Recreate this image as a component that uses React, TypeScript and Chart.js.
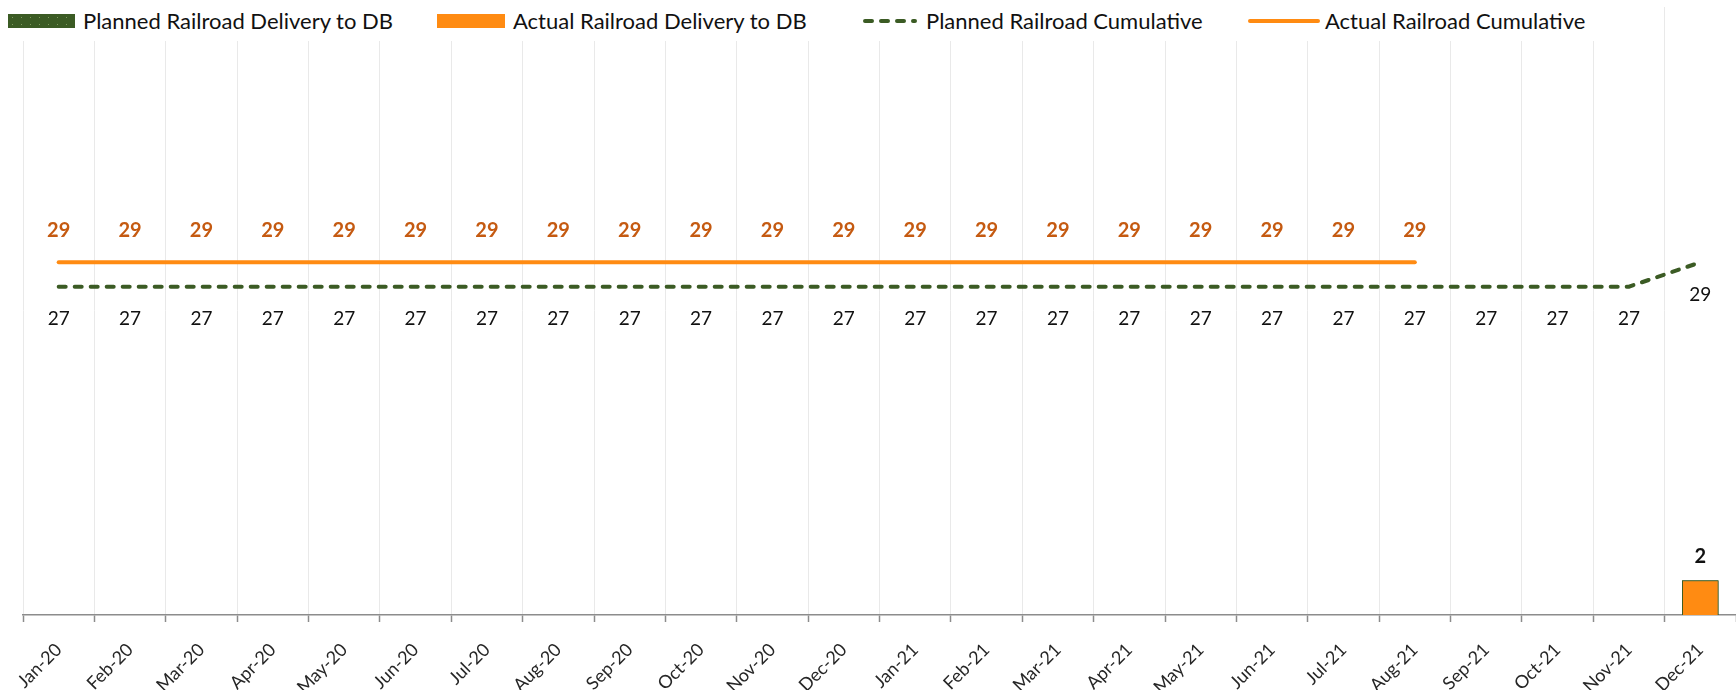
import React, { useEffect, useRef } from "react";
import { Chart, registerables } from "chart.js";

Chart.register(...registerables);

const months = [
  "Jan-20", "Feb-20", "Mar-20", "Apr-20", "May-20", "Jun-20",
  "Jul-20", "Aug-20", "Sep-20", "Oct-20", "Nov-20", "Dec-20",
  "Jan-21", "Feb-21", "Mar-21", "Apr-21", "May-21", "Jun-21",
  "Jul-21", "Aug-21", "Sep-21", "Oct-21", "Nov-21", "Dec-21",
];

const plannedDelivery = [
  null, null, null, null, null, null, null, null, null, null, null, null,
  null, null, null, null, null, null, null, null, null, null, null, 2,
];

const actualDelivery = [
  null, null, null, null, null, null, null, null, null, null, null, null,
  null, null, null, null, null, null, null, null, null, null, null, 2,
];

const plannedCumulative = [
  27, 27, 27, 27, 27, 27, 27, 27, 27, 27, 27, 27,
  27, 27, 27, 27, 27, 27, 27, 27, 27, 27, 27, 29,
];

const actualCumulative = [
  29, 29, 29, 29, 29, 29, 29, 29, 29, 29, 29, 29,
  29, 29, 29, 29, 29, 29, 29, 29, null, null, null, null,
];

const seriesNames = [
  "Planned Railroad Delivery to DB",
  "Actual Railroad Delivery to DB",
  "Planned Railroad Cumulative",
  "Actual Railroad Cumulative",
];

const FONT = "Lato";
const GREEN = "#3B5B24";
const ORANGE = "#FF8B12";
const LABEL_ORANGE = "#C55A11";

const valueLabelPlugin = {
  id: "valueLabels",
  afterDatasetsDraw(chart: any) {
    const ctx = chart.ctx;
    chart.data.datasets.forEach((ds: any, i: number) => {
      const cfg = ds.valueLabel;
      if (!cfg) return;
      const meta = chart.getDatasetMeta(i);
      if (meta.hidden) return;
      meta.data.forEach((el: any, j: number) => {
        const v = ds.data[j];
        if (v == null) return;
        const p = el.getProps(["x", "y"], true);
        ctx.save();
        ctx.font = `${cfg.weight} ${cfg.size}px ${FONT}`;
        ctx.fillStyle = cfg.color;
        ctx.textAlign = "center";
        ctx.textBaseline = "middle";
        ctx.fillText(String(v), p.x, p.y + cfg.dy);
        ctx.restore();
      });
    });
  },
};

function LegendSwatch({ kind }: { kind: number }) {
  if (kind === 0) {
    return (
      <svg width="67" height="14" style={{ display: "block" }}>
        <defs>
          <pattern id="dots" width="9" height="7" patternUnits="userSpaceOnUse">
            <rect width="9" height="7" fill={GREEN} />
            <rect x="4" y="3" width="1" height="1" fill="#7d9a5c" />
          </pattern>
        </defs>
        <rect width="67" height="14" fill="url(#dots)" />
      </svg>
    );
  }
  if (kind === 1) {
    return (
      <svg width="68" height="14" style={{ display: "block" }}>
        <rect width="68" height="14" fill={ORANGE} />
      </svg>
    );
  }
  if (kind === 2) {
    return (
      <svg width="54" height="14" style={{ display: "block" }}>
        <line x1="2" y1="7" x2="52" y2="7" stroke={GREEN} strokeWidth="4"
          strokeDasharray="7 9" strokeLinecap="round" />
      </svg>
    );
  }
  return (
    <svg width="72" height="14" style={{ display: "block" }}>
      <line x1="2" y1="7" x2="70" y2="7" stroke={ORANGE} strokeWidth="4" strokeLinecap="round" />
    </svg>
  );
}

const legendSwatchLeft = [8, 437, 863, 1248];
const legendTextLeft = [83, 513, 926, 1325];

export default function App() {
  const canvasRef = useRef<HTMLCanvasElement | null>(null);

  useEffect(() => {
    if (!canvasRef.current) return;
    const chart = new Chart(canvasRef.current, {
      type: "bar",
      data: {
        labels: months,
        datasets: [
          {
            type: "line",
            label: seriesNames[3],
            data: actualCumulative,
            yAxisID: "y1",
            borderColor: ORANGE,
            backgroundColor: ORANGE,
            borderWidth: 4,
            borderCapStyle: "round",
            pointRadius: 0,
            pointHoverRadius: 0,
            order: 1,
            valueLabel: { color: LABEL_ORANGE, size: 20, weight: "bold", dy: -32 },
          } as any,
          {
            type: "line",
            label: seriesNames[2],
            data: plannedCumulative,
            yAxisID: "y1",
            borderColor: GREEN,
            backgroundColor: GREEN,
            borderWidth: 4,
            borderDash: [7, 9],
            borderCapStyle: "round",
            pointRadius: 0,
            pointHoverRadius: 0,
            order: 2,
            valueLabel: { color: "#111", size: 19, weight: "normal", dy: 32.5 },
          } as any,
          {
            type: "bar",
            label: seriesNames[1],
            data: actualDelivery,
            yAxisID: "y",
            backgroundColor: ORANGE,
            borderColor: GREEN,
            borderWidth: 1,
            grouped: false,
            categoryPercentage: 1,
            barPercentage: 0.514,
            order: 3,
            valueLabel: { color: "#111", size: 20, weight: "bold", dy: -24 },
          } as any,
          {
            type: "bar",
            label: seriesNames[0],
            data: plannedDelivery,
            yAxisID: "y",
            backgroundColor: GREEN,
            borderColor: GREEN,
            borderWidth: 1,
            grouped: false,
            categoryPercentage: 1,
            barPercentage: 0.514,
            order: 4,
          } as any,
        ],
      },
      options: {
        responsive: false,
        animation: false,
        devicePixelRatio: 1,
        layout: { padding: { left: 23, right: 0, top: 7, bottom: 0 } },
        plugins: {
          legend: { display: false },
          tooltip: { enabled: false },
        },
        scales: {
          x: {
            offset: true,
            grid: {
              offset: true,
              color: "#e9e9e9",
              lineWidth: 1,
              tickColor: "#8c8c8c",
              tickLength: 7,
              tickWidth: 1.5,
            },
            border: { color: "#8c8c8c", width: 1.5 },
            ticks: {
              minRotation: 45,
              maxRotation: 45,
              padding: 17,
              autoSkip: false,
              color: "#262626",
              font: { family: FONT, size: 18 },
            },
            afterFit: (scale: any) => {
              scale.height = 75;
            },
          },
          y: {
            display: false,
            min: 0,
            max: 35,
          },
          y1: {
            display: false,
            min: 0,
            max: 50,
            position: "right",
          },
        },
      },
      plugins: [valueLabelPlugin],
    });
    return () => chart.destroy();
  }, []);

  return (
    <div style={{ position: "fixed", left: 0, top: 0, width: 1736, height: 690, background: "#fff" }}>
      <canvas ref={canvasRef} width={1736} height={690} style={{ position: "absolute", left: 0, top: 0 }} />
      <div style={{ position: "absolute", left: 0, top: 0, width: 1620, height: 41, background: "#fff" }}>
        {seriesNames.map((name, k) => (
          <React.Fragment key={name}>
            <div style={{ position: "absolute", left: legendSwatchLeft[k], top: 14 }}>
              <LegendSwatch kind={k} />
            </div>
            <div
              style={{
                position: "absolute",
                left: legendTextLeft[k],
                top: 7,
                fontFamily: FONT,
                fontSize: 22,
                lineHeight: "28px",
                color: "#111",
                whiteSpace: "nowrap",
              }}
            >
              {name}
            </div>
          </React.Fragment>
        ))}
      </div>
    </div>
  );
}
